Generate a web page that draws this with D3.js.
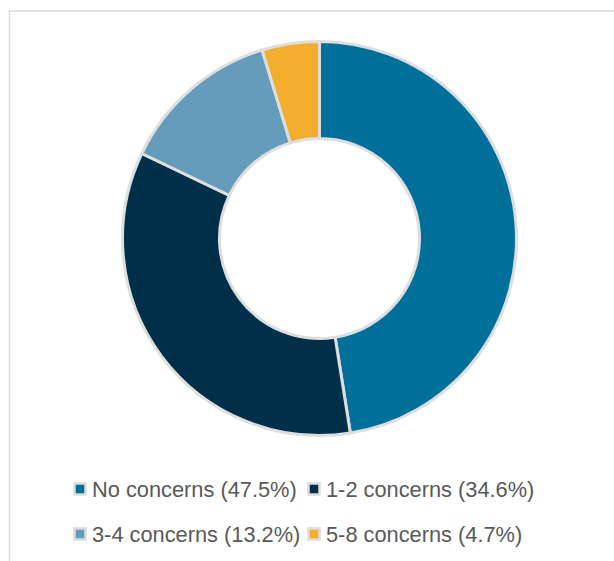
<!DOCTYPE html>
<html>
<head>
<meta charset="utf-8">
<script src="https://cdn.jsdelivr.net/npm/d3@7"></script>
<style>
  body { margin: 0; background: #fff; }
  .legend text { font-family: "Liberation Sans", Arial, sans-serif; font-size: 21.8px; fill: #595959; }
</style>
</head>
<body>
<div id="chart"></div>
<script>
var categories = ["No concerns", "1-2 concerns", "3-4 concerns", "5-8 concerns"];
var values = [47.5, 34.6, 13.2, 4.7];
var colors = ["#00709b", "#003049", "#669cbb", "#f4ae2e"];

var width = 614, height = 561;
var cx = 319.5, cy = 238.5, outerR = 197, innerR = 100;

var svg = d3.select("#chart").append("svg")
    .attr("width", width)
    .attr("height", height);

// chart frame (only top and left edges fall inside the picture)
svg.append("path")
    .attr("d", "M9.5," + height + "V11H" + width)
    .attr("fill", "none")
    .attr("stroke", "#d9d9d9")
    .attr("stroke-width", 1.5);

var data = categories.map(function(c, i) { return { name: c, value: values[i], color: colors[i] }; });

var pie = d3.pie()
    .value(function(d) { return d.value; })
    .sort(null);

var arc = d3.arc()
    .innerRadius(innerR)
    .outerRadius(outerR);

var g = svg.append("g")
    .attr("transform", "translate(" + cx + "," + cy + ")");

g.selectAll("path")
    .data(pie(data))
    .enter().append("path")
    .attr("d", arc)
    .attr("fill", function(d) { return d.data.color; })
    .attr("stroke", "#dedede")
    .attr("stroke-width", 3)
    .attr("stroke-linejoin", "round");

// legend, two columns
var colX = [73, 307], rowY = [489, 534];

var legend = svg.append("g").attr("class", "legend")
    .selectAll("g")
    .data(data)
    .enter().append("g")
    .attr("transform", function(d, i) {
      return "translate(" + colX[i % 2] + "," + rowY[Math.floor(i / 2)] + ")";
    });

legend.append("rect")
    .attr("x", 1.5)
    .attr("y", -5.5)
    .attr("width", 11)
    .attr("height", 11)
    .attr("fill", function(d) { return d.color; })
    .attr("stroke", "#dcdcdc")
    .attr("stroke-width", 2.5);

legend.append("text")
    .attr("x", 19)
    .attr("y", 0)
    .attr("dy", "0.36em")
    .text(function(d) { return d.name + " (" + d.value + "%)"; });
</script>
</body>
</html>
